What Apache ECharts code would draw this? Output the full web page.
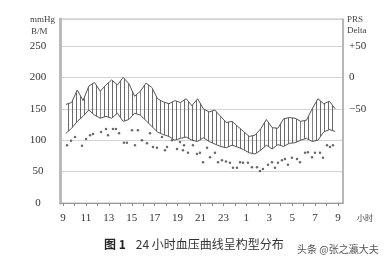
<!DOCTYPE html>
<html><head><meta charset="utf-8">
<script src="https://cdn.jsdelivr.net/npm/echarts@6/dist/echarts.min.js"></script>
<style>html,body{margin:0;padding:0;background:#fff}#c{width:385px;height:268px}</style>
</head><body><div id="c"></div>
<script>
// hours elapsed since 9:00
const times = [0.25,0.75,1.25,1.75,2.25,2.75,3.25,3.75,4.25,4.75,5.25,5.75,6.25,6.75,7.25,7.75,
  8.25,8.75,9.25,9.75,10.25,10.75,11.25,11.75,12.25,12.75,13.25,13.75,14.25,14.75,15.25,15.75,
  16.25,16.75,17.25,17.75,18.25,18.75,19.25,19.75,20.25,20.75,21.25,21.75,22.25,22.75,23.25,23.75];
const systolic = [157,160,180,163,186,192,178,188,196,188,200,190,170,178,191,184,
  166,161,158,163,160,166,155,166,150,145,148,138,128,130,122,114,
  106,108,118,133,120,119,134,136,135,130,132,150,166,158,162,150];
const diastolic = [111,119,130,138,148,140,135,138,135,143,130,133,143,140,131,122,
  113,109,106,100,103,105,100,98,104,98,94,90,88,92,89,85,
  80,78,84,92,86,93,90,95,96,100,103,98,100,113,117,114];
// heart-rate readings (own time stamps, hours since 9:00)
const hrTimes = [0.35,0.70,1.05,1.66,2.01,2.36,2.62,3.32,3.75,3.93,4.36,4.62,4.89,5.32,5.58,
  6.02,6.28,6.54,6.89,7.33,7.59,7.85,8.20,8.64,8.90,9.08,9.51,9.95,10.21,10.47,10.56,10.91,
  11.34,11.69,11.95,12.22,12.57,12.83,13.26,13.53,13.87,14.22,14.57,14.83,15.18,15.45,15.71,
  16.14,16.49,16.93,17.19,17.45,17.89,18.24,18.50,18.76,19.11,19.37,19.63,19.98,20.42,20.68,
  21.12,21.38,21.73,21.99,22.43,22.69,23.04,23.30,23.56];
const heartRate = [92,99,105,91,102,108,110,113,118,108,118,118,111,96,96,
  116,92,116,100,95,111,89,88,105,84,89,100,86,97,84,92,80,
  92,78,80,65,88,73,80,65,68,66,64,56,56,65,64,
  64,57,57,51,54,61,65,56,64,68,70,61,72,70,65,
  80,81,73,80,80,72,92,89,92];
const hourLabels = ['9','11','13','15','17','19','21','23','1','3','5','7','9'];
const leftTicks = [0,50,100,150,200,250];
const rightTicks = {'50':'+50','0':'0','-50':'−50'};

const serif = 'Liberation Serif';
const pat = document.createElement('canvas');
pat.width = 4; pat.height = 4;
const pctx = pat.getContext('2d');
pctx.fillStyle = '#6a6a6a';
pctx.fillRect(0, 0, 1, 4);

const chart = echarts.init(document.getElementById('c'), null, {renderer: 'canvas'});
const option = {
  animation: false,
  backgroundColor: '#fff',
  grid: [
    {left: 60, top: 19, width: 283, height: 184, show: true, borderColor: '#bbb', borderWidth: 1},
    {left: 63, top: 19, width: 275, height: 184}
  ],
  xAxis: [
    {gridIndex: 0, type: 'value', min: 0, max: 1, axisLine: {show: true, lineStyle: {color: '#999', width: 1}},
      axisTick: {show: false}, axisLabel: {show: false}, splitLine: {show: false}},
    {gridIndex: 1, type: 'value', min: 0, max: 24, interval: 1,
      axisLine: {show: false}, splitLine: {show: false},
      axisTick: {show: true, length: 3, lineStyle: {color: '#888'}},
      axisLabel: {margin: 10, fontFamily: serif, fontSize: 11, color: '#333',
        formatter: v => (v % 2 === 0 ? hourLabels[v / 2] : '')}}
  ],
  yAxis: [
    {gridIndex: 0, type: 'value', min: 0, max: 293, interval: 50, position: 'left',
      axisLine: {show: true, lineStyle: {color: '#bbb', width: 3}},
      axisTick: {show: false},
      splitLine: {show: true, lineStyle: {color: '#d4d4d4', width: 1}},
      axisLabel: {margin: 22, align: 'center', fontFamily: serif, fontSize: 11, color: '#333',
        formatter: v => (leftTicks.indexOf(v) >= 0 ? String(v) : '')}},
    {gridIndex: 0, type: 'value', min: -200, max: 93, interval: 50, position: 'right',
      axisLine: {show: true, lineStyle: {color: '#aaa', width: 1.5}},
      axisTick: {show: false}, splitLine: {show: false},
      axisLabel: {margin: 6, fontFamily: serif, fontSize: 11, color: '#333',
        formatter: v => (rightTicks[String(v)] !== undefined ? rightTicks[String(v)] : '')}},
    {gridIndex: 1, type: 'value', min: 0, max: 293, show: false}
  ],
  series: [
    {type: 'custom', xAxisIndex: 1, yAxisIndex: 2, z: 1,
      data: times.slice(0, -1).map((t, i) => [t, i]),
      encode: {x: 0, y: 1},
      renderItem: (params, api) => {
        const i = params.dataIndex;
        const pts = [
          api.coord([times[i], systolic[i]]),
          api.coord([times[i + 1], systolic[i + 1]]),
          api.coord([times[i + 1], diastolic[i + 1]]),
          api.coord([times[i], diastolic[i]])
        ];
        return {type: 'polygon', shape: {points: pts},
          style: {fill: {image: pat, repeat: 'repeat'}, stroke: null}};
      }},
    {type: 'line', xAxisIndex: 1, yAxisIndex: 2, z: 3, symbol: 'none',
      data: times.map((t, i) => [t, systolic[i]]),
      lineStyle: {color: '#555', width: 1}},
    {type: 'line', xAxisIndex: 1, yAxisIndex: 2, z: 3, symbol: 'none',
      data: times.map((t, i) => [t, diastolic[i]]),
      lineStyle: {color: '#555', width: 1}},
    {type: 'scatter', xAxisIndex: 1, yAxisIndex: 2, z: 4, symbolSize: 2.5,
      data: hrTimes.map((t, i) => [t, heartRate[i]]),
      itemStyle: {color: '#444'}}
  ],
  graphic: [
    {type: 'text', left: 30, top: 15, style: {text: 'mmHg', font: '9px "Liberation Serif"', fill: '#444'}},
    {type: 'text', left: 31, top: 27, style: {text: 'B/M', font: '9px "Liberation Serif"', fill: '#444'}},
    {type: 'text', left: 347, top: 15, style: {text: 'PRS', font: '9px "Liberation Serif"', fill: '#444'}},
    {type: 'text', left: 347, top: 26, style: {text: 'Delta', font: '9px "Liberation Serif"', fill: '#444'}},
    {type: 'text', left: 357, top: 214, style: {text: '小时', font: '8px "Noto Sans CJK SC"', fill: '#444'}},
    {type: 'text', left: 104, top: 238, style: {
      text: '{b|图 1}   {t|24 小时血压曲线呈杓型分布}',
      rich: {b: {font: 'bold 12px "Noto Sans CJK SC"', fill: '#222'},
             t: {font: '12px "Noto Sans CJK SC"', fill: '#333'}}}},
    {type: 'text', left: 297, top: 244, style: {text: '头条 @张之瀛大夫', font: '10px "Noto Sans CJK SC"', fill: '#555'}}
  ]
};
chart.setOption(option);
</script>
</body></html>
